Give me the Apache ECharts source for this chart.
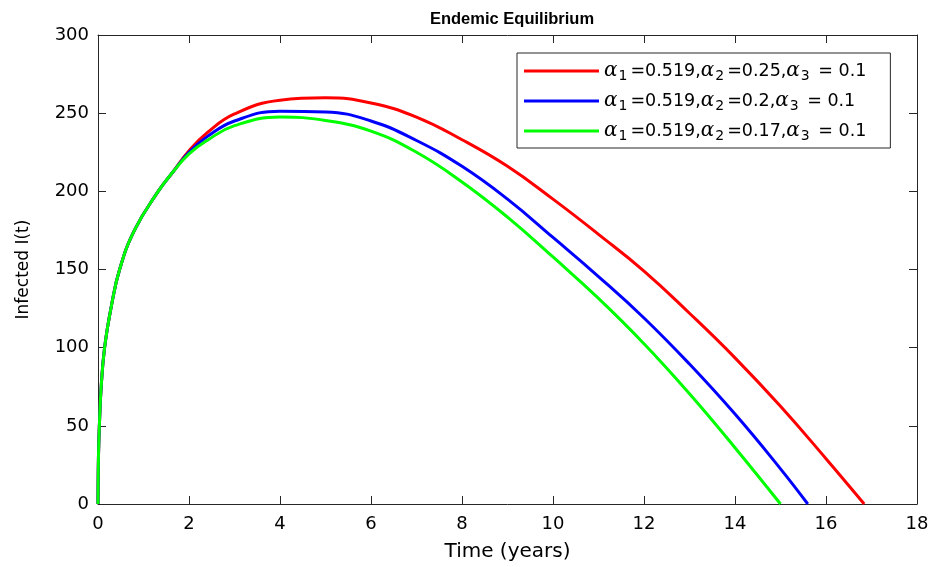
<!DOCTYPE html>
<html>
<head>
<meta charset="utf-8">
<script src="https://cdn.jsdelivr.net/npm/echarts@6/dist/echarts.min.js"></script>
<style>html,body{margin:0;padding:0;background:#fff;}#c{width:932px;height:567px;}</style>
</head>
<body>
<div id="c"></div>
<script>
// ---- data ----
const titleText = 'Endemic Equilibrium';
const xName = 'Time (years)';
const yName = 'Infected I(t)';
const xTicks = [0, 2, 4, 6, 8, 10, 12, 14, 16, 18];
const yTicks = [0, 50, 100, 150, 200, 250, 300];

const alpha1 = '0.519';
const alpha2 = ['0.25', '0.2', '0.17'];
const alpha3 = '0.1';
const seriesNames = ['red case', 'blue case', 'green case'];

// shared early growth (curves coincide)
const tEarly = [0, 0.01, 0.03, 0.07, 0.145, 0.29, 0.475, 0.8, 1.3, 1.65];
const iEarly = [0, 30, 50, 75, 100, 126, 150, 175, 199, 212.5];

const tRed = [2, 2.4, 3, 4, 5, 6, 7, 8, 9, 10, 11, 12, 13, 14, 15, 16, 16.84];
const iRed = [226, 237.5, 249.5, 258.3, 259.8, 256.5, 247.5, 233, 216, 195, 172.5, 149, 122, 93.5, 62.5, 29, 0];

const tBlue = [2, 2.4, 3, 4, 5, 6, 7, 8, 9, 10, 11, 12, 13, 14, 15, 15.6];
const iBlue = [225, 235, 245, 251.3, 250.8, 245, 232.5, 216, 195, 170.5, 145.5, 119, 89.5, 57.5, 22.5, 0];

const tGreen = [2, 2.4, 3, 4, 5, 6, 7, 8, 9, 10, 11, 12, 13, 14, 15];
const iGreen = [224, 232.6, 242, 247.5, 245.3, 238.5, 225, 206, 183.5, 158, 131.5, 102.5, 70.5, 36, 0];

// ---- build ----
function pairs(ts, vs) { return ts.map((t, i) => [t, vs[i]]); }
const dataSets = [
  pairs(tEarly.concat(tRed), iEarly.concat(iRed)),
  pairs(tEarly.concat(tBlue), iEarly.concat(iBlue)),
  pairs(tEarly.concat(tGreen), iEarly.concat(iGreen))
];
const colors = ['#ff0000', '#0000ff', '#00ff00'];

const font = '"Liberation Sans", Arial, Helvetica, sans-serif';
const wide = '"DejaVu Sans", Verdana, sans-serif';
const axisColor = '#262626';

const chart = echarts.init(document.getElementById('c'), null, {renderer: 'canvas'});

const baseAxisLine = {show: true, onZero: false, lineStyle: {color: axisColor, width: 1}};
const tickIn = {show: true, inside: true, length: 8, lineStyle: {color: axisColor, width: 1}};

const option = {
  backgroundColor: '#ffffff',
  animation: false,
  title: {
    text: titleText,
    left: 507, top: 6, textAlign: 'center',
    textStyle: {fontFamily: font, fontWeight: 'bold', fontSize: 16.5, color: '#000'}
  },
  grid: {left: 98, right: 15, top: 35, bottom: 63, containLabel: false},
  legend: {
    orient: 'vertical',
    left: 517, top: 53,
    data: seriesNames,
    itemWidth: 75, itemHeight: 3, itemGap: 8,
    icon: 'rect',
    backgroundColor: '#fff',
    borderColor: axisColor, borderWidth: 1,
    padding: [8, 24, 5, 7],
    formatter: function (name) {
      const k = seriesNames.indexOf(name);
      return '{al|α}{sub|1}{t|=' + alpha1 + ',}{al|α}{sub|2}{t|=' + alpha2[k] + ',}{al|α}{sub|3}{t| = ' + alpha3 + '}';
    },
    textStyle: {
      fontFamily: wide, fontSize: 17.5, color: '#000',
      rich: {
        t: {fontFamily: wide, fontSize: 17.5, color: '#000', lineHeight: 22},
        al: {fontFamily: '"DejaVu Serif", serif', fontStyle: 'italic', fontSize: 20, color: '#000', lineHeight: 22},
        sub: {fontFamily: wide, fontSize: 14, color: '#000', padding: [10, 3, 0, 1]}
      }
    }
  },
  xAxis: [
    {
      type: 'value', min: 0, max: 18, interval: 2, position: 'bottom',
      name: xName, nameLocation: 'middle', nameGap: 38,
      nameTextStyle: {fontFamily: wide, fontSize: 20, color: '#000'},
      axisLine: baseAxisLine, axisTick: tickIn, splitLine: {show: false},
      axisLabel: {fontFamily: wide, fontSize: 18, color: '#000', margin: 11}
    },
    {
      type: 'value', min: 0, max: 18, interval: 2, position: 'top',
      axisLine: baseAxisLine, axisTick: tickIn, splitLine: {show: false},
      axisLabel: {show: false}
    }
  ],
  yAxis: [
    {
      type: 'value', min: 0, max: 300, interval: 50, position: 'left',
      name: yName, nameLocation: 'middle', nameGap: 66,
      nameTextStyle: {fontFamily: wide, fontSize: 17, color: '#000'},
      axisLine: baseAxisLine, axisTick: tickIn, splitLine: {show: false},
      axisLabel: {fontFamily: wide, fontSize: 18, color: '#000', margin: 9}
    },
    {
      type: 'value', min: 0, max: 300, interval: 50, position: 'right',
      axisLine: baseAxisLine, axisTick: tickIn, splitLine: {show: false},
      axisLabel: {show: false}
    }
  ],
  series: seriesNames.map((n, i) => ({
    name: n, type: 'line', data: dataSets[i],
    xAxisIndex: 0, yAxisIndex: 0,
    showSymbol: false, symbol: 'none',
    smooth: 0.45,
    lineStyle: {color: colors[i], width: 3},
    itemStyle: {color: colors[i]},
    z: 3 + i
  }))
};
chart.setOption(option);
</script>
</body>
</html>
